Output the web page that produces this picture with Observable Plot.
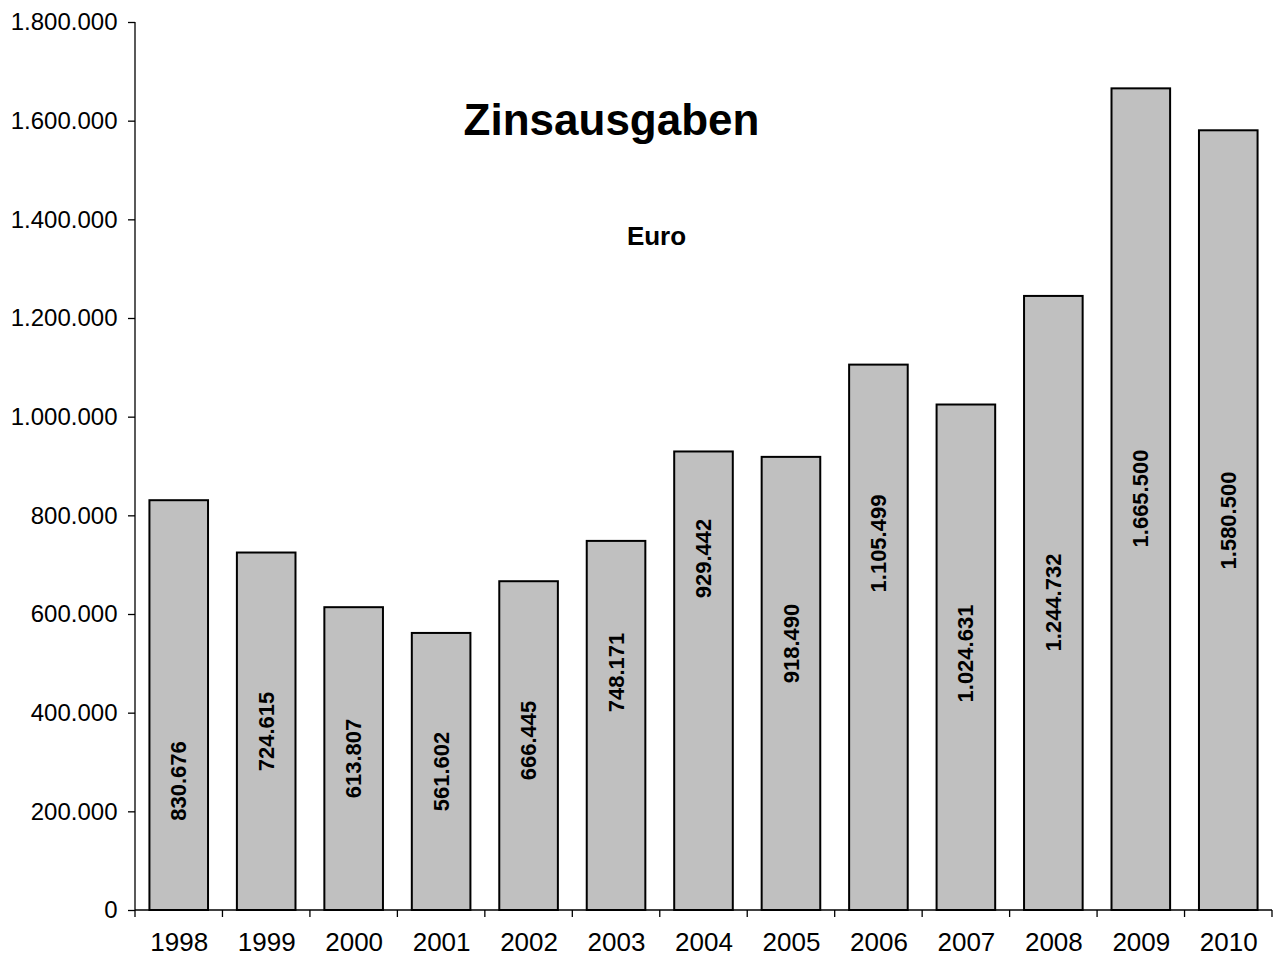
<!DOCTYPE html>
<html>
<head>
<meta charset="utf-8">
<script src="https://cdn.jsdelivr.net/npm/d3@7"></script>
<script src="https://cdn.jsdelivr.net/npm/@observablehq/plot@0.6"></script>
<style>
  html, body { margin: 0; padding: 0; background: #fff; }
</style>
</head>
<body>
<div id="chart"></div>
<script>
// ---- data ----
const years = ["1998", "1999", "2000", "2001", "2002", "2003", "2004", "2005", "2006", "2007", "2008", "2009", "2010"];
const values = [830676, 724615, 613807, 561602, 666445, 748171, 929442, 918490, 1105499, 1024631, 1244732, 1665500, 1580500];
// value (in Euro units) at which each bar's label sits
const labelAt = [262500, 362800, 308100, 281800, 344600, 482400, 713500, 541200, 743900, 520900, 624300, 835100, 790500];
const yTicks = [0, 200000, 400000, 600000, 800000, 1000000, 1200000, 1400000, 1600000, 1800000];
const title = "Zinsausgaben";
const unit = "Euro";

const de = d3.formatLocale({decimal: ",", thousands: ".", grouping: [3], currency: ["", " €"]});
const fmt = de.format(",");
const data = years.map((year, i) => ({year, value: values[i], labelAt: labelAt[i]}));

const font = "Arial, 'Liberation Sans', sans-serif";

// axis lines and category-boundary ticks (Excel style)
const axisLines = (index, scales, vals, dimensions) => {
  const {y} = scales;
  const left = dimensions.marginLeft;
  const right = dimensions.width - dimensions.marginRight;
  const n = years.length;
  const step = (right - left) / n;
  const y0 = y(0);
  const yTop = y(yTicks[yTicks.length - 1]);
  const g = d3.create("svg:g").attr("stroke", "#000").attr("stroke-width", 1.3).attr("fill", "none");
  g.append("line").attr("x1", left).attr("x2", left).attr("y1", yTop).attr("y2", y0 + 7);
  g.append("line").attr("x1", left).attr("x2", right).attr("y1", y0).attr("y2", y0);
  for (let i = 1; i <= n; ++i) {
    const xx = left + i * step;
    g.append("line").attr("x1", xx).attr("x2", xx).attr("y1", y0).attr("y2", y0 + 7);
  }
  return g.node();
};

const chart = Plot.plot({
  width: 1274,
  height: 956,
  marginTop: 22,
  marginBottom: 46,
  marginLeft: 135,
  marginRight: 2,
  style: {fontFamily: font, fontSize: "24px", color: "#000", background: "#fff", overflow: "visible"},
  x: {domain: years, paddingInner: 0.33, paddingOuter: 0.165, round: false, label: null},
  y: {domain: [0, 1800000], label: null},
  marks: [
    Plot.barY(data, {x: "year", y: "value", fill: "#c0c0c0", stroke: "#000", strokeWidth: 2}),
    axisLines,
    Plot.axisY({ticks: yTicks, tickFormat: fmt, tickSize: 7, tickPadding: 11, fontSize: 24, stroke: "#000", strokeWidth: 1.3, fill: "#000"}),
    Plot.axisX({tickSize: 0, tickPadding: 22, fontSize: 26, fill: "#000"}),
    Plot.text(data, {x: "year", y: "labelAt", text: d => fmt(d.value), rotate: -90, fontWeight: "bold", fontSize: 22, fill: "#000"}),
    Plot.text([title], {frameAnchor: "top-left", dx: 476, dy: 81, text: d => d, fontSize: 44, fontWeight: "bold", textAnchor: "middle", fill: "#000"}),
    Plot.text([unit], {frameAnchor: "top-left", dx: 521, dy: 204, text: d => d, fontSize: 26, fontWeight: "bold", textAnchor: "middle", fill: "#000"})
  ]
});
document.getElementById("chart").appendChild(chart);
</script>
</body>
</html>
